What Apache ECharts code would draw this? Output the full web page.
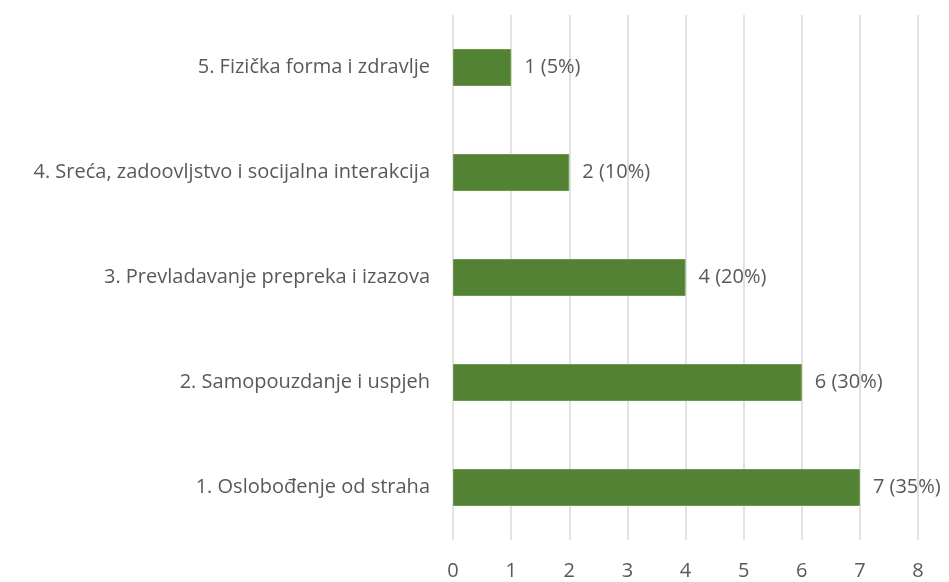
<!DOCTYPE html>
<html>
<head>
<meta charset="utf-8">
<script src="https://cdn.jsdelivr.net/npm/echarts@6/dist/echarts.min.js"></script>
<style>
html, body { margin: 0; padding: 0; background: #fff; }
#chart { width: 949px; height: 582px; }
</style>
</head>
<body>
<div id="chart"></div>
<script>
var categories = [
    '1. Oslobođenje od straha',
    '2. Samopouzdanje i uspjeh',
    '3. Prevladavanje prepreka i izazova',
    '4. Sreća, zadoovljstvo i socijalna interakcija',
    '5. Fizička forma i zdravlje'
];
var counts = [7, 6, 4, 2, 1];
var percents = [35, 30, 20, 10, 5];

var fontFam = "'Open Sans', sans-serif";

var myChart = echarts.init(document.getElementById('chart'));

var option = {
    animation: false,
    grid: {
        left: 453,
        right: 31,
        top: 15,
        bottom: 42
    },
    xAxis: {
        type: 'value',
        min: 0,
        max: 8,
        interval: 1,
        axisLine: { show: false },
        axisTick: { show: false },
        axisLabel: {
            color: '#595959',
            fontSize: 20,
            fontFamily: fontFam,
            margin: 21
        },
        splitLine: {
            show: true,
            lineStyle: { color: '#d9d9d9', width: 1.5 }
        }
    },
    yAxis: {
        type: 'category',
        data: categories,
        axisLine: { show: false },
        axisTick: { show: false },
        axisLabel: {
            color: '#595959',
            fontSize: 20,
            fontFamily: fontFam,
            margin: 23
        }
    },
    series: [
        {
            type: 'bar',
            data: counts,
            barWidth: 37,
            itemStyle: {
                color: '#548235',
                borderColor: '#6a9a4a',
                borderWidth: 1
            },
            label: {
                show: true,
                position: 'right',
                distance: 13,
                color: '#595959',
                fontSize: 20,
                fontFamily: fontFam,
                formatter: function (p) {
                    return p.value + ' (' + percents[p.dataIndex] + '%)';
                }
            }
        }
    ]
};

myChart.setOption(option);
</script>
</body>
</html>
